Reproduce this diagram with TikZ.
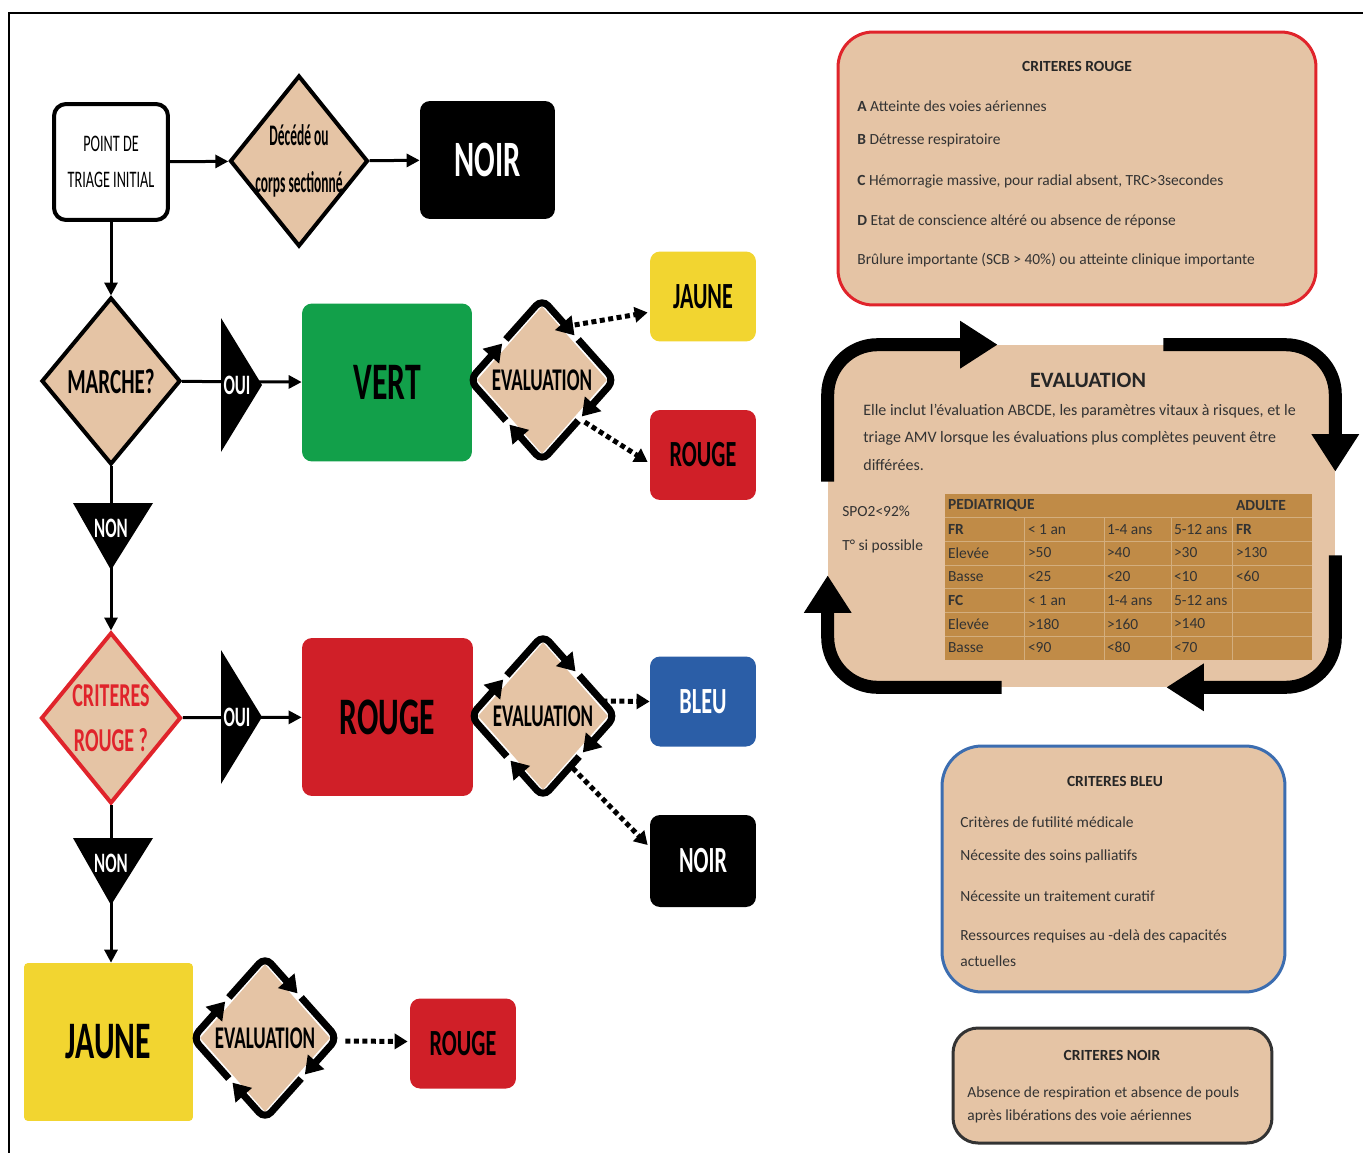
\documentclass[tikz,border=0pt]{standalone}
\usepackage{fontspec}
\setmainfont{Carlito}
\newfontfamily\condfont[FakeStretch=0.6]{Carlito}
\newfontfamily\squeezefont[FakeStretch=0.45]{Carlito}
\usetikzlibrary{shapes.geometric,arrows.meta,calc}

\definecolor{tanfill}{HTML}{E5C4A5}
\definecolor{tablebrown}{HTML}{C08B47}
\definecolor{vertgreen}{HTML}{12A04A}
\definecolor{rougered}{HTML}{D01F28}
\definecolor{jauneyellow}{HTML}{F2D530}
\definecolor{bleublue}{HTML}{2B5EA7}
\definecolor{critred}{HTML}{E0242B}
\definecolor{bleuline}{HTML}{3C6DB0}

\tikzset{
  flow/.style={line width=0.06cm, -{Triangle[length=0.26cm,width=0.26cm]}},
  dotflow/.style={line width=0.1cm, dash pattern=on 0.1cm off 0.07cm, -{Triangle[length=0.26cm,width=0.3cm]}},
  ringarrow/.style={line width=0.14cm, rounded corners=0.18cm, -{Triangle[length=0.34cm,width=0.42cm]}},
  bigarrow/.style={line width=0.26cm, rounded corners=1cm, -{Triangle[length=0.75cm,width=0.9cm]}},
  decision/.style={diamond, fill=tanfill, draw=black, line width=0.08cm, inner sep=0pt, align=center},
  evalnode/.style={diamond, fill=tanfill, inner sep=0pt, minimum width=2.6cm, minimum height=2.95cm,
    font=\condfont\bfseries\fontsize{18}{18}\selectfont},
  colbox/.style={rectangle, rounded corners=0.2cm, inner sep=0pt},
  bigbox/.style={colbox, minimum width=3.4cm, minimum height=3.16cm, font=\condfont\bfseries\fontsize{30}{30}\selectfont},
  smallbox/.style={colbox, minimum width=2.12cm, minimum height=1.8cm, font=\condfont\bfseries\fontsize{21}{21}\selectfont},
  tagtext/.style={text=white, inner sep=0pt, font=\condfont\bfseries\fontsize{16}{16}\selectfont},
  critbox/.style={rectangle, fill=tanfill, line width=0.06cm},
  crittitle/.style={inner sep=0pt, text=black!85, font=\bfseries\fontsize{8.8}{10}\selectfont},
  crittext/.style={anchor=west, inner sep=0pt, text=black!80, font=\fontsize{8.8}{10}\selectfont},
  cell/.style={anchor=west, inner sep=0pt, text=black!80, font=\fontsize{8.8}{10}\selectfont},
}

\begin{document}
\begin{tikzpicture}[x=0.02cm, y=-0.02cm]
\useasboundingbox (0,0) rectangle (1363,1153);
% Frame
\draw[line width=0.04cm] (9,1153) -- (9,13) -- (1363,13);

% Initial triage point
\node[rectangle, draw=black, fill=white, line width=0.08cm, rounded corners=0.24cm,
  minimum width=2.28cm, minimum height=2.32cm, align=center,
  font=\condfont\fontsize{13.5}{20.4}\selectfont] (pointde) at (111,162) {POINT DE\\TRIAGE INITIAL};
\node[decision, minimum width=2.76cm, minimum height=3.42cm] (deced) at (299,161) {};
\node[align=center, inner sep=0pt, font=\squeezefont\bfseries\fontsize{17}{26.6}\selectfont] (decedtxt) at (deced) {Décédé ou\\corps sectionné};
\node[colbox, fill=black, text=white, minimum width=2.7cm, minimum height=2.36cm,
  font=\condfont\bfseries\fontsize{29}{29}\selectfont] (noir1) at (487.5,160) {NOIR};

% Walking patients
\node[decision, minimum width=2.78cm, minimum height=3.34cm,
  font=\condfont\bfseries\fontsize{20}{20}\selectfont] (marche) at (111,381) {MARCHE?};
\node[bigbox, fill=vertgreen] (vert) at (387,382.5) {VERT};
\node[evalnode] (eval1) at (542,380) {EVALUATION};
\node[smallbox, fill=jauneyellow] (jaune1) at (703,296.5) {JAUNE};
\node[smallbox, fill=rougered] (rouge1) at (703,455) {ROUGE};

% Red criteria
\node[decision, draw=critred, minimum width=2.8cm, minimum height=3.42cm] (crit) at (111,718) {};
\node[align=center, inner sep=0pt, text=critred,
  font=\condfont\bfseries\fontsize{19}{25.5}\selectfont] (crittxt) at (crit) {CRITERES\\ROUGE ?};
\node[bigbox, fill=rougered, minimum width=3.42cm] (rouge2) at (387.5,717) {ROUGE};
\node[evalnode] (eval2) at (543,716) {EVALUATION};
\node[smallbox, fill=bleublue, text=white] (bleu) at (703,701.5) {BLEU};
\node[smallbox, fill=black, text=white, minimum height=1.84cm] (noir2) at (703,861) {NOIR};

% Yellow
\node[bigbox, fill=jauneyellow, rounded corners=0.08cm, minimum width=3.38cm] (jaune3) at (108.5,1042) {JAUNE};
\node[evalnode] (eval3) at (265,1038) {EVALUATION};
\node[smallbox, fill=rougered] (rouge3) at (463,1043.5) {ROUGE};

% Connections
\draw[flow] (pointde) -- (deced);
\draw[flow] (deced) -- (noir1);
\draw[flow] (pointde) -- (marche);
\draw[flow] (marche) -- (vert);
\draw[flow] (marche.south) -- (crit.north);
\draw[flow] (crit) -- (rouge2);
\draw[flow] (crit.south) -- (crit.south |- jaune3.north);

% Yes / no tags
\foreach \n/\y in {oui1/385, oui2/717}{
  \fill (221,\y-67) -- (262,\y) -- (221,\y+67) -- cycle;
  \node[tagtext] (\n) at (237,\y) {OUI};
}
\foreach \n/\y in {non1/503, non2/838}{
  \fill (73,\y) -- (153,\y) -- (111,\y+67) -- cycle;
  \node[tagtext] (\n) at (111,\y+25) {NON};
}

% Evaluation cycles
\foreach \e in {eval1,eval2,eval3}{
  \coordinate (\e-t) at ($(\e.north)+(0,-7)$);
  \coordinate (\e-r) at ($(\e.east)+(7,0)$);
  \coordinate (\e-b) at ($(\e.south)+(0,7)$);
  \coordinate (\e-l) at ($(\e.west)+(-7,0)$);
  \draw[ringarrow] ($(\e-t)!0.5!(\e-l)$) -- (\e-t) -- ($(\e-t)!0.45!(\e-r)$);
  \draw[ringarrow] ($(\e-r)!0.5!(\e-t)$) -- (\e-r) -- ($(\e-r)!0.45!(\e-b)$);
  \draw[ringarrow] ($(\e-b)!0.5!(\e-r)$) -- (\e-b) -- ($(\e-b)!0.45!(\e-l)$);
  \draw[ringarrow] ($(\e-l)!0.5!(\e-b)$) -- (\e-l) -- ($(\e-l)!0.45!(\e-t)$);
}

% Re-triage
\draw[dotflow] ($(eval1.north east)+(0,-18)$) -- ($(jaune1.west)+(-2,16)$);
\draw[dotflow] ($(eval1.south east)+(10,5)$) -- ($(rouge1.west)+(-2,7)$);
\draw[dotflow] ($(eval2.east)+(-6,-15)$) -- (bleu.west);
\draw[dotflow] ($(eval2.south east)+(-3,15)$) -- ($(noir2.west)+(-2,-16)$);
\draw[dotflow] ($(eval3.east)+(15,3)$) -- ($(rouge3.west)+(-2,-2)$);

% Red criteria box
\node[critbox, draw=critred, rounded corners=0.7cm, minimum width=9.56cm, minimum height=5.46cm] (crbox) at (1077,168.5) {};
\node[crittitle] (crtitle) at (1077,66) {CRITERES ROUGE};
\node[crittext] (cra) at (857,106) {\textbf{A} Atteinte des voies aériennes};
\node[crittext] (crb) at (857,140) {\textbf{B} Détresse respiratoire};
\node[crittext] (crc) at (857,181) {\textbf{C} Hémorragie massive, pour radial absent, TRC>3secondes};
\node[crittext] (crd) at (857,221) {\textbf{D} Etat de conscience altéré ou absence de réponse};
\node[crittext] (cre) at (857,260) {Brûlure importante (SCB > 40\%) ou atteinte clinique importante};

% Evaluation box
\node[rectangle, fill=tanfill, rounded corners=1cm, minimum width=10.14cm, minimum height=6.84cm] (evalbox) at (1081.5,516) {};
\draw[bigarrow] ($(evalbox.north west)+(0,137)$) -- (evalbox.north west) -- ($(evalbox.north west)+(170,0)$);
\draw[bigarrow] ($(evalbox.north east)+(-172,0)$) -- (evalbox.north east) -- ($(evalbox.north east)+(0,127)$);
\draw[bigarrow] ($(evalbox.south east)+(0,-132)$) -- (evalbox.south east) -- ($(evalbox.south east)+(-169,0)$);
\draw[bigarrow] ($(evalbox.south west)+(174,0)$) -- (evalbox.south west) -- ($(evalbox.south west)+(0,-112)$);
\node[inner sep=0pt, text=black!85, font=\bfseries\fontsize{12.5}{14}\selectfont] (evtitle) at (1088,380) {EVALUATION};
\node[crittext, font=\fontsize{9.1}{11}\selectfont] (evl1) at (863,411) {Elle inclut l'évaluation ABCDE, les paramètres vitaux à risques, et le};
\node[crittext, font=\fontsize{9.1}{11}\selectfont] (evl2) at (863,438) {triage AMV lorsque les évaluations plus complètes peuvent être};
\node[crittext, font=\fontsize{9.1}{11}\selectfont] (evl3) at (863,465) {différées.};
\node[crittext] (spo) at (842,511) {SPO2<92\%};
\node[crittext] (temp) at (842,546) {T° si possible};

% Vital signs table
\node[rectangle, fill=tablebrown, minimum width=7.34cm, minimum height=3.32cm, inner sep=0pt] (tbl) at (1128.5,577) {};
\foreach \k in {1,...,6}
  \draw[tablebrown!70!white, line width=0.3pt] ($(tbl.north west)+(0,23.7*\k)$) -- ($(tbl.north east)+(0,23.7*\k)$);
\foreach \cx in {80,160,227,288}
  \draw[tablebrown!70!white, line width=0.3pt] ($(tbl.north west)+(\cx,23.7)$) -- ($(tbl.south west)+(\cx,0)$);
\foreach \k/\ca/\cb/\cc/\cd/\ce in {
  0/\textbf{PEDIATRIQUE}/{}/{}/{}/\textbf{ADULTE},
  1/\textbf{FR}/< 1 an/1-4 ans/5-12 ans/\textbf{FR},
  2/Elevée/>50/>40/>30/>130,
  3/Basse/<25/<20/<10/<60,
  4/\textbf{FC}/< 1 an/1-4 ans/5-12 ans/{},
  5/Elevée/>180/>160/>140/{},
  6/Basse/<90/<80/<70/{}}{
  \node[cell] (c\k-1) at ($(tbl.north west)+(3,11.85+23.7*\k)$) {\ca};
  \node[cell] (c\k-2) at ($(tbl.north west)+(83,11.85+23.7*\k)$) {\cb};
  \node[cell] (c\k-3) at ($(tbl.north west)+(162,11.85+23.7*\k)$) {\cc};
  \node[cell] (c\k-4) at ($(tbl.north west)+(229,11.85+23.7*\k)$) {\cd};
  \node[cell] (c\k-5) at ($(tbl.north west)+(291,11.85+23.7*\k)$) {\ce};
}

% Blue criteria box
\node[critbox, draw=bleuline, rounded corners=0.8cm, minimum width=6.86cm, minimum height=4.92cm] (blbox) at (1113.5,869) {};
\node[crittitle] (bltitle) at (1115,781) {CRITERES BLEU};
\node[crittext] (bla) at (960,822) {Critères de futilité médicale};
\node[crittext] (blb) at (960,856) {Nécessite des soins palliatifs};
\node[crittext] (blc) at (960,896) {Nécessite un traitement curatif};
\node[crittext] (bld) at (960,936) {Ressources requises au -delà des capacités};
\node[crittext] (ble) at (960,961) {actuelles};

% Black criteria box
\node[critbox, draw=black!80, rounded corners=0.5cm, minimum width=6.38cm, minimum height=2.3cm] (nobox) at (1112.5,1085.5) {};
\node[crittitle] (notitle) at (1112,1055) {CRITERES NOIR};
\node[crittext] (noa) at (967,1093) {Absence de respiration et absence de pouls};
\node[crittext] (nob) at (967,1116) {après libérations des voie aériennes};
\end{tikzpicture}
\end{document}
